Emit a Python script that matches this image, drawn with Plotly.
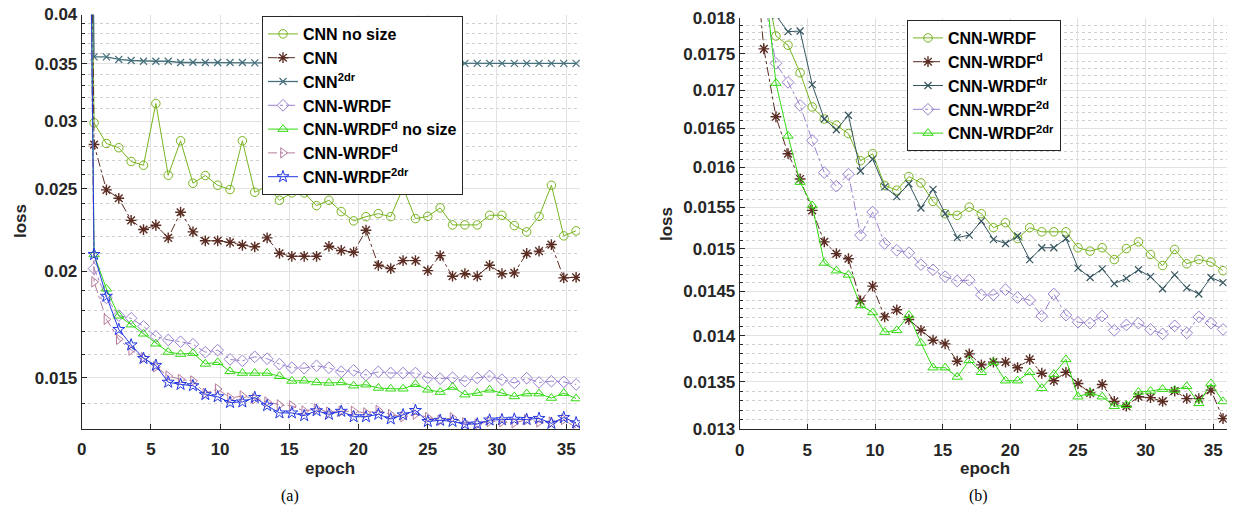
import math
import plotly.graph_objects as go

# ---------------- data ----------------
# x positions: epoch 0 plus 40 evaluation points spaced 0.893 epoch apart
eval_step = 0.893
epochs = [0.0] + [round(eval_step * i, 3) for i in range(1, 41)]

cnn_no_size = [0.5, 0.02986, 0.02824, 0.02792, 0.02690, 0.02663, 0.03146, 0.02592, 0.02845, 0.02537, 0.0259,
               0.02523, 0.02494, 0.02845, 0.02476, 0.02517, 0.02423, 0.02472, 0.02472, 0.02388, 0.02423,
               0.0235, 0.02292, 0.02318, 0.02337, 0.02318, 0.02506, 0.02306, 0.0232, 0.02374, 0.02267,
               0.02267, 0.02267, 0.02327, 0.02327, 0.02263, 0.02225, 0.0232, 0.02523, 0.02201, 0.02231]
cnn = [0.5, 0.02816, 0.02492, 0.02436, 0.02295, 0.02239, 0.02265, 0.02189, 0.02346, 0.02225, 0.02172,
       0.02172, 0.02163, 0.02146, 0.02137, 0.02189, 0.021, 0.02083, 0.02083, 0.02083, 0.0214,
       0.02116, 0.02106, 0.02235, 0.02033, 0.02015, 0.02059, 0.02059, 0.02004, 0.02087, 0.01974,
       0.01987, 0.01974, 0.02033, 0.01987, 0.01992, 0.02099, 0.02112, 0.0215, 0.01965, 0.01968]
cnn_2dr = [0.5, 0.03568, 0.03568, 0.03543, 0.03533, 0.03526, 0.03526, 0.03526, 0.03514, 0.03516, 0.03514,
           0.03514, 0.03514, 0.03514, 0.0351, 0.0351, 0.0351, 0.0351, 0.0351, 0.0351, 0.03508,
           0.03506, 0.03506, 0.03505, 0.03505, 0.03505, 0.03505, 0.03505, 0.03505, 0.03505, 0.03505,
           0.03505, 0.03505, 0.03505, 0.03505, 0.03505, 0.03505, 0.03505, 0.03505, 0.03505, 0.03505]
wrdf_d_no_size = [0.5, 0.02093, 0.01908, 0.01774, 0.01732, 0.0169, 0.01645, 0.01609, 0.016, 0.01604, 0.01558,
                  0.01565, 0.01527, 0.0152, 0.0152, 0.0152, 0.01507, 0.01488, 0.01489, 0.01482, 0.0148,
                  0.01482, 0.01469, 0.01473, 0.0146, 0.01457, 0.01457, 0.01475, 0.01453, 0.01444, 0.01464,
                  0.01434, 0.0144, 0.01453, 0.0144, 0.01427, 0.01438, 0.01438, 0.01421, 0.0144, 0.01419]
wrdf = [0.5, 0.02015, 0.01862, 0.01775, 0.01762, 0.01724, 0.01678, 0.01662, 0.01654, 0.01643, 0.01608,
        0.01617, 0.01577, 0.01571, 0.01588, 0.0158, 0.01557, 0.01542, 0.0154, 0.0155, 0.01542,
        0.01525, 0.01531, 0.01512, 0.01525, 0.0152, 0.0152, 0.0152, 0.01501, 0.01497, 0.01501,
        0.01487, 0.015, 0.01508, 0.01493, 0.0148, 0.01499, 0.01482, 0.01487, 0.01484, 0.01474]
wrdf_d = [0.5, 0.01944, 0.01757, 0.01665, 0.01617, 0.01585, 0.01546, 0.01508, 0.01494, 0.01488, 0.01439,
          0.01456, 0.01421, 0.01429, 0.01418, 0.01406, 0.01395, 0.01391, 0.01372, 0.0138, 0.01368,
          0.01371, 0.01371, 0.01365, 0.01374, 0.01359, 0.01351, 0.0136, 0.01348, 0.01338, 0.01347,
          0.01329, 0.01324, 0.01334, 0.01333, 0.01329, 0.0134, 0.01332, 0.01332, 0.01341, 0.01311]
wrdf_dr = [0.5, 0.0205, 0.0188, 0.01804, 0.01781, 0.01782, 0.01708, 0.01662, 0.01648, 0.01667, 0.01595,
           0.0161, 0.01575, 0.01563, 0.01579, 0.01549, 0.01572, 0.01542, 0.01513, 0.01516, 0.01533,
           0.01511, 0.01506, 0.01515, 0.01487, 0.01501, 0.01501, 0.01512, 0.01477, 0.01466, 0.01476,
           0.01459, 0.01465, 0.01475, 0.01467, 0.01453, 0.01469, 0.01454, 0.01447, 0.01466, 0.0146]
wrdf_2d = [0.5, 0.0199, 0.0183, 0.01737, 0.01711, 0.0168, 0.01634, 0.01593, 0.01576, 0.01591, 0.01516,
           0.01544, 0.01506, 0.01498, 0.01495, 0.01481, 0.01475, 0.01467, 0.01462, 0.01463, 0.01446,
           0.01446, 0.01452, 0.01443, 0.0144, 0.01422, 0.01447, 0.01423, 0.01415, 0.01414, 0.01422,
           0.01406, 0.01412, 0.01414, 0.01407, 0.01402, 0.01411, 0.01403, 0.01421, 0.01414, 0.01407]
wrdf_2dr = [0.5, 0.02093, 0.0187, 0.0171, 0.0164, 0.01581, 0.01552, 0.01483, 0.01474, 0.01469, 0.01434,
            0.01426, 0.01404, 0.01406, 0.01423, 0.01392, 0.01365, 0.01365, 0.01355, 0.01373, 0.0136,
            0.01371, 0.01351, 0.01351, 0.0136, 0.01343, 0.01358, 0.01374, 0.01334, 0.01338, 0.01334,
            0.01324, 0.01325, 0.01339, 0.0134, 0.01342, 0.01341, 0.01345, 0.01327, 0.01348, 0.01329]

x_ticks = [0, 5, 10, 15, 20, 25, 30, 35]
left_y_ticks = [0.015, 0.02, 0.025, 0.03, 0.035, 0.04]
left_y_labels = ["0.015", "0.02", "0.025", "0.03", "0.035", "0.04"]
left_y_minor = [0.014, 0.016, 0.017, 0.018, 0.019, 0.021, 0.022, 0.023, 0.024, 0.026, 0.027, 0.028, 0.029,
                0.031, 0.032, 0.033, 0.034, 0.036, 0.037, 0.038, 0.039]
right_y_ticks = [0.013, 0.0135, 0.014, 0.0145, 0.015, 0.0155, 0.016, 0.0165, 0.017, 0.0175, 0.018]
right_y_labels = ["0.013", "0.0135", "0.014", "0.0145", "0.015", "0.0155", "0.016", "0.0165", "0.017", "0.0175", "0.018"]
right_y_minor = [round(0.013 + 0.0001 * k, 4) for k in range(1, 50) if k % 5 != 0]

# ---------------- styles ----------------
W, H = 1234, 515
AX = "#262626"
GRID = "#e2e2e2"
MINOR = "#cfcfcf"
FONT = "Liberation Sans"

YG = "#77b41f"
BROWN = "#5a2c22"
TEAL = "#46707c"
TEAL_D = "#35555f"
PURPLE = "#9a80cf"
GREEN = "#33d912"
PINK = "#b57a9d"
BLUE = "#2236e3"

fig = go.Figure()


def add(y, name, color, symbol, dash, xa, ya, leg, size=8.5, lw=1.0, mlw=1.0):
    fig.add_trace(go.Scatter(
        x=epochs, y=y, name=name, mode="lines+markers",
        line=dict(color=color, width=lw, dash=dash),
        marker=dict(symbol=symbol, size=size, color=color, line=dict(color=color, width=mlw)),
        xaxis=xa, yaxis=ya, legend=leg))


add(cnn_no_size, "CNN no size", YG, "circle-open", "solid", "x", "y", "legend")
add(cnn, "CNN", BROWN, "asterisk-open", "dashdot", "x", "y", "legend", size=9, mlw=1.4)
add(cnn_2dr, "CNN<sup>2dr</sup>", TEAL, "x-thin-open", "solid", "x", "y", "legend", size=7, lw=1.3, mlw=1.2)
add(wrdf, "CNN-WRDF", PURPLE, "diamond-open", "dashdot", "x", "y", "legend", size=9)
add(wrdf_d_no_size, "CNN-WRDF<sup>d</sup> no size", GREEN, "triangle-up-open", "solid", "x", "y", "legend", size=9)
add(wrdf_d, "CNN-WRDF<sup>d</sup>", PINK, "triangle-right-open", "dashdot", "x", "y", "legend", size=9)
add(wrdf_2dr, "CNN-WRDF<sup>2dr</sup>", BLUE, "star-open", "solid", "x", "y", "legend", size=9)

add(wrdf, "CNN-WRDF", YG, "circle-open", "solid", "x2", "y2", "legend2")
add(wrdf_d, "CNN-WRDF<sup>d</sup>", BROWN, "asterisk-open", "dashdot", "x2", "y2", "legend2", size=9, mlw=1.4)
add(wrdf_dr, "CNN-WRDF<sup>dr</sup>", TEAL_D, "x-thin-open", "solid", "x2", "y2", "legend2", size=7, mlw=1.2)
add(wrdf_2d, "CNN-WRDF<sup>2d</sup>", PURPLE, "diamond-open", "dashdot", "x2", "y2", "legend2", size=9)
add(wrdf_2dr, "CNN-WRDF<sup>2dr</sup>", GREEN, "triangle-up-open", "solid", "x2", "y2", "legend2", size=9)

tickfont = dict(family=FONT, size=17, color=AX, weight="bold")


def xaxis(domain, anchor):
    return dict(domain=domain, anchor=anchor, range=[0, 36], tickmode="array", tickvals=x_ticks,
                automargin=False, ticklabelstandoff=5,
                showgrid=True, gridcolor=GRID, gridwidth=1, zeroline=False,
                showline=True, linecolor=AX, linewidth=1, mirror=False,
                ticks="inside", ticklen=5, tickcolor=AX, tickfont=tickfont)


def yaxis(domain, anchor, rng, tv, tt, minor_vals):
    return dict(domain=domain, anchor=anchor, type="log", range=[math.log10(rng[0]), math.log10(rng[1])],
                tickmode="array", tickvals=tv, ticktext=tt, automargin=False,
                showgrid=True, gridcolor=GRID, gridwidth=1, zeroline=False,
                showline=True, linecolor=AX, linewidth=1, mirror=False,
                ticks="inside", ticklen=5, tickcolor=AX, tickfont=tickfont,
                minor=dict(tickmode="array", tickvals=minor_vals, ticks="inside", ticklen=3,
                           tickcolor=AX, showgrid=True, gridcolor=MINOR, griddash="dot", gridwidth=1))


def py(px):
    return 1 - px / H


legend_font = dict(family=FONT, size=16, color="black", weight="bold")

fig.update_layout(
    width=W, height=H, margin=dict(l=0, r=0, t=0, b=0, autoexpand=False),
    paper_bgcolor="white", plot_bgcolor="white", showlegend=True,
    xaxis=xaxis([81.7 / W, 580 / W], "y"),
    yaxis=yaxis([py(429), py(14.5)], "x", [0.01307, 0.04], left_y_ticks, left_y_labels, left_y_minor),
    xaxis2=xaxis([739.7 / W, 1226.8 / W], "y2"),
    yaxis2=yaxis([py(429.3), py(18.3)], "x2", [0.013, 0.018], right_y_ticks, right_y_labels, right_y_minor),
    legend=dict(x=262 / W, y=py(16), xanchor="left", yanchor="top", bgcolor="white",
                bordercolor=AX, borderwidth=1, font=legend_font, tracegroupgap=0),
    legend2=dict(x=907 / W, y=py(20), xanchor="left", yanchor="top", bgcolor="white",
                 bordercolor=AX, borderwidth=1, font=legend_font, tracegroupgap=0),
)

ann_font = dict(family=FONT, size=17, color=AX, weight="bold")
cap_font = dict(family="Liberation Serif", size=16, color="black")
annotations = [
    dict(text="loss", x=20 / W, y=py(221), textangle=-90, font=ann_font),
    dict(text="loss", x=667 / W, y=py(224), textangle=-90, font=ann_font),
    dict(text="epoch", x=330 / W, y=py(468), font=ann_font),
    dict(text="epoch", x=985 / W, y=py(468), font=ann_font),
    dict(text="(a)", x=290 / W, y=py(496), font=cap_font),
    dict(text="(b)", x=978 / W, y=py(496), font=cap_font),
]
for a in annotations:
    a.update(xref="paper", yref="paper", showarrow=False, xanchor="center", yanchor="middle")
fig.update_layout(annotations=annotations)

fig.write_html("out.html", config={"displayModeBar": False},
               post_script="document.body.style.margin='0';document.body.style.overflow='hidden';")
